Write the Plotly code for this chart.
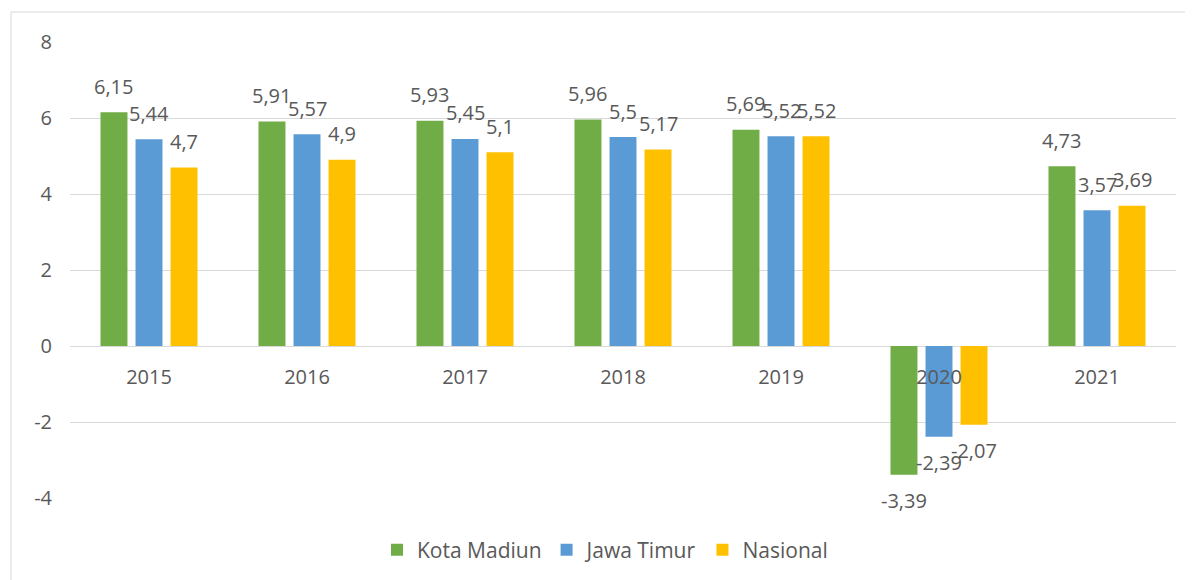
import plotly.graph_objects as go

years = ["2015", "2016", "2017", "2018", "2019", "2020", "2021"]
kota_madiun = [6.15, 5.91, 5.93, 5.96, 5.69, -3.39, 4.73]
jawa_timur = [5.44, 5.57, 5.45, 5.50, 5.52, -2.39, 3.57]
nasional = [4.70, 4.90, 5.10, 5.17, 5.52, -2.07, 3.69]
y_tick_values = [-4, -2, 0, 2, 4, 6, 8]
y_tick_labels = ["-4", "-2", "0", "2", "4", "6", "8"]

series_names = ["Kota Madiun", "Jawa Timur", "Nasional"]
series_values = [kota_madiun, jawa_timur, nasional]
colors = ["#70AD47", "#5B9BD5", "#FFC000"]

# the html page body has an 8px margin; size the figure to fit the window
PAGE_OFF = 8
W, H = 1193 - PAGE_OFF, 580 - PAGE_OFF
ml, mr, mt, mb = 70 - PAGE_OFF, 17, 42 - PAGE_OFF, 82
y_range = [-4, 8]
bargap = 0.335
bargroupgap = 0.23
text_color = "#595959"
grid_color = "#D9D9D9"
font_family = "Open Sans"

fig = go.Figure()
for name, vals, col in zip(series_names, series_values, colors):
    fig.add_trace(go.Bar(x=years, y=vals, name=name, marker=dict(color=col, line=dict(width=0))))

# data labels as annotations, offset by group slot
plot_w = W - ml - mr
cat_w = plot_w / len(years)
slot = cat_w * (1 - bargap) / len(series_names)
annotations = []
for i, (vals, col) in enumerate(zip(series_values, colors)):
    off = (i - (len(series_names) - 1) / 2) * slot
    for j, v in enumerate(vals):
        annotations.append(dict(
            x=j, y=v, xref="x", yref="y",
            text=f"{v:g}".replace(".", ","),
            showarrow=False, xshift=off,
            yshift=26 if v >= 0 else -26,
            yanchor="middle", xanchor="center",
            font=dict(family=font_family, size=20, color=text_color),
        ))

# chart border (in paper coords)
plot_h = H - mt - mb
def px_to_paper_x(px):
    return (px - PAGE_OFF - ml) / plot_w
def px_to_paper_y(py):
    return (H - mb - (py - PAGE_OFF)) / plot_h

fig.update_layout(
    template=None,
    width=W, height=H,
    margin=dict(l=ml, r=mr, t=mt, b=mb, autoexpand=False),
    paper_bgcolor="white", plot_bgcolor="white",
    barmode="group", bargap=bargap, bargroupgap=bargroupgap,
    font=dict(family=font_family, size=20, color=text_color),
    showlegend=True,
    legend=dict(orientation="h", xref="container", yref="container",
                x=(605 - PAGE_OFF) / W, y=1 - (550 - PAGE_OFF) / H,
                xanchor="center", yanchor="middle",
                font=dict(family=font_family, size=21, color=text_color),
                bgcolor="rgba(0,0,0,0)"),
    annotations=annotations,
    shapes=[dict(type="rect", xref="paper", yref="paper",
                 x0=px_to_paper_x(11), x1=px_to_paper_x(1192),
                 y0=px_to_paper_y(590), y1=px_to_paper_y(12),
                 line=dict(color=grid_color, width=1), fillcolor="rgba(0,0,0,0)",
                 layer="below")],
)
fig.update_yaxes(range=y_range, tickvals=y_tick_values, ticktext=y_tick_labels,
                 showgrid=True, gridcolor=grid_color, automargin=False,
                 gridwidth=1, zeroline=True, zerolinecolor=grid_color, zerolinewidth=1,
                 showline=False, ticks="", ticklabelstandoff=17,
                 tickfont=dict(family=font_family, size=20, color=text_color))
fig.update_xaxes(type="category", range=[-0.5, len(years) - 0.5], automargin=False,
                 showgrid=False, zeroline=False, showline=False,
                 anchor="free", position=(0 - y_range[0]) / (y_range[1] - y_range[0]),
                 ticks="", ticklabelstandoff=17,
                 tickfont=dict(family=font_family, size=20, color=text_color))

fig.write_html("out.html")
